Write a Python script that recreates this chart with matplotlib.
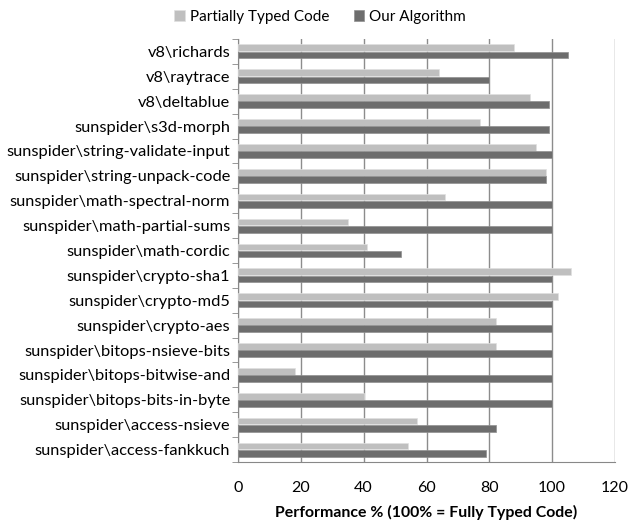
import matplotlib
matplotlib.use("Agg")
import matplotlib.pyplot as plt
import numpy as np

plt.rcParams['font.family'] = ['Lato', 'DejaVu Sans']

categories = [
    "v8\\richards", "v8\\raytrace", "v8\\deltablue", "sunspider\\s3d-morph",
    "sunspider\\string-validate-input", "sunspider\\string-unpack-code",
    "sunspider\\math-spectral-norm", "sunspider\\math-partial-sums",
    "sunspider\\math-cordic", "sunspider\\crypto-sha1", "sunspider\\crypto-md5",
    "sunspider\\crypto-aes", "sunspider\\bitops-nsieve-bits",
    "sunspider\\bitops-bitwise-and", "sunspider\\bitops-bits-in-byte",
    "sunspider\\access-nsieve", "sunspider\\access-fankkuch",
]
partial = [88, 64, 93, 77, 95, 98, 66, 35, 41, 106, 102, 82, 82, 18, 40, 57, 54]
ours = [105, 80, 99, 99, 100, 98, 100, 100, 52, 100, 100, 100, 100, 100, 100, 82, 79]
xticks = [0, 20, 40, 60, 80, 100, 120]

fig = plt.figure(figsize=(6.29, 5.25), dpi=100)
ax = fig.add_axes([238/629, 1-462/525, (615-238)/629, (462-39)/525])

n = len(categories)
y = np.arange(n)
h = 0.27
light = '#bfbfbf'
dark = '#6d6d6d'
ax.barh(y - h/2 - 0.01, partial, height=h, color=light, edgecolor='#e0e0e0', linewidth=0.5,
        label='Partially Typed Code', zorder=3)
ax.barh(y + h/2 + 0.01, ours, height=h, color=dark, edgecolor='#909090', linewidth=0.5,
        label='Our Algorithm', zorder=3)

ax.set_ylim(n - 0.5, -0.5)
ax.set_xlim(0, 120)
ax.set_yticks(y)
ax.set_yticklabels(categories, fontsize=11.75)
ax.set_yticks(np.arange(-0.5, n, 1), minor=True)
ax.tick_params(axis='y', which='major', length=0, pad=5.5)
ax.tick_params(axis='y', which='minor', length=4, color='#888888', direction='out')
ax.set_xticks(xticks)
ax.set_xticklabels([str(v) for v in xticks], fontsize=11.5)
ax.tick_params(axis='x', length=0, pad=14)
ax.xaxis.grid(True, color='#8c8c8c', linewidth=1, zorder=0)
ax.set_axisbelow(True)
for s in ['top', 'right']:
    ax.spines[s].set_visible(False)
ax.spines['left'].set_color('#888888')
ax.spines['bottom'].set_color('#888888')

ax.set_xlabel('Performance % (100% = Fully Typed Code)', fontsize=11.4, fontweight='bold', labelpad=7)

fig.legend(loc='center', bbox_to_anchor=(320/629, 1-17/525), ncol=2, frameon=False,
           fontsize=11, handlelength=0.7, handleheight=0.7, handletextpad=0.3, columnspacing=1.6)

fig.savefig('out.png', dpi=100)
